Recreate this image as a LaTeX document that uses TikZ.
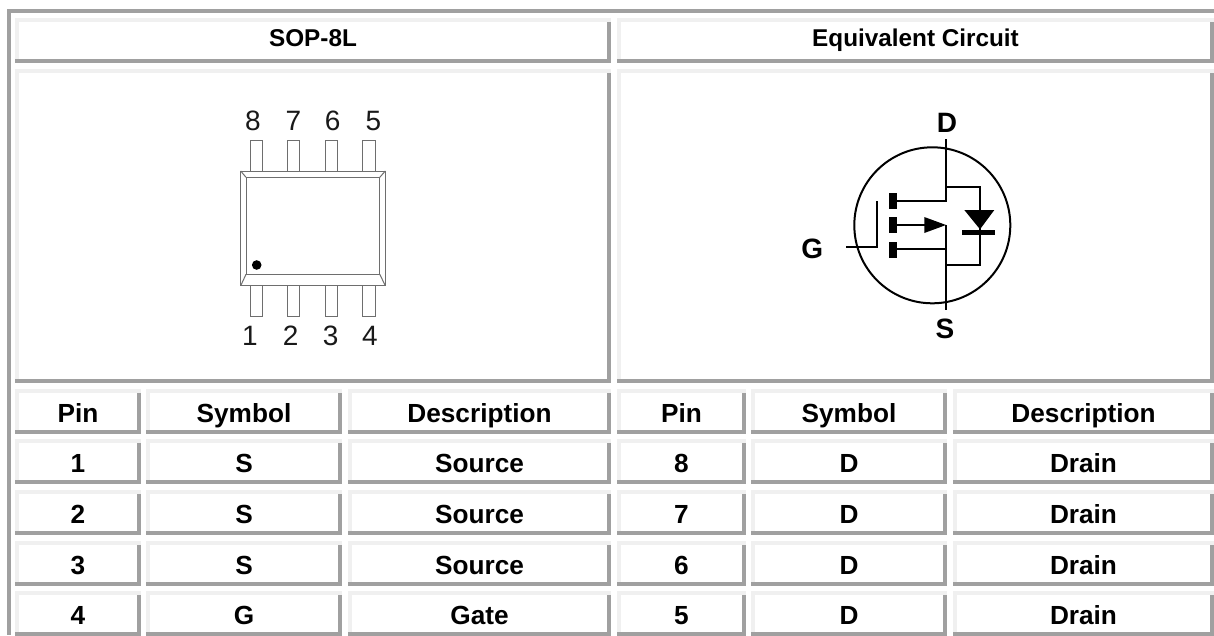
\documentclass[tikz,border=0pt]{standalone}
\usepackage{fontspec}
\setmainfont{Liberation Sans}
\definecolor{framedark}{HTML}{A0A0A0}
\definecolor{framelight}{HTML}{F0F0F0}
\definecolor{pkgline}{HTML}{6E6E6E}
\tikzset{
  celltext/.style={anchor=base,inner sep=0pt,font=\fontsize{#1}{#1}\selectfont\bfseries,text=black},
  pinnum/.style={anchor=center,inner sep=0pt,font=\fontsize{28}{28}\selectfont,text=black!90},
  pkg/.style={draw=pkgline,line width=1pt,line join=miter},
  fetthick/.style={draw=black,line width=2.3pt,line cap=butt},
  fetthin/.style={draw=black,line width=1.7pt},
  fetlabel/.style={anchor=center,inner sep=0pt,font=\fontsize{28}{28}\selectfont\bfseries,text=black}
}
% #1 name, #2 x0, #3 y0, #4 x1, #5 y1, #6 size, #7 baseline y, #8 text
\newcommand{\tabcell}[8]{%
  \fill[framelight] (#2,#3) rectangle (#4,#3+4);
  \fill[framelight] (#2,#3) rectangle (#2+4,#5-4);
  \fill[framedark] (#2,#5-4) rectangle (#4,#5);
  \fill[framedark] (#4-4,#3+4) rectangle (#4,#5);
  \node[celltext=#6] (#1) at ({(#2+#4)/2},#7) {#8};
}
\newcommand{\tabrow}[7]{%
  \tabcell{p#1}{15}{#2}{141}{#3}{26.2}{#4}{#5}
  \tabcell{s#1}{146}{#2}{342}{#3}{26.2}{#4}{#6}
  \tabcell{d#1}{348}{#2}{611}{#3}{26.2}{#4}{#7}
}
\newcommand{\tabrowR}[7]{%
  \tabcell{q#1}{617}{#2}{746}{#3}{26.2}{#4}{#5}
  \tabcell{t#1}{751}{#2}{947}{#3}{26.2}{#4}{#6}
  \tabcell{e#1}{953}{#2}{1214}{#3}{26.2}{#4}{#7}
}
\newcommand{\pkgpin}[3]{\draw[pkg] (#1,#2) rectangle (#1+12.4,#3);}
\begin{document}
\begin{tikzpicture}[x=1pt,y=-1pt]
\useasboundingbox (0,0) rectangle (1214,635);
\fill[white] (0,0) rectangle (1214,635);
\fill[framedark] (7,9) rectangle (1214,13);
\fill[framedark] (7,9) rectangle (11,635);
% header and drawing cells
\tabcell{h1}{15}{18}{611}{63}{24.3}{46.5}{SOP-8L}
\tabcell{h2}{617}{18}{1214}{63}{24.3}{46.5}{Equivalent Circuit}
\tabcell{big1}{15}{69}{611}{383}{24}{226}{}
\tabcell{big2}{617}{69}{1214}{383}{24}{226}{}
% table
\tabrow{0}{389}{434}{422}{Pin}{Symbol}{Description}
\tabrowR{0}{389}{434}{422}{Pin}{Symbol}{Description}
\tabrow{1}{439}{484}{472}{1}{S}{Source}
\tabrowR{1}{439}{484}{472}{8}{D}{Drain}
\tabrow{2}{490}{535}{523}{2}{S}{Source}
\tabrowR{2}{490}{535}{523}{7}{D}{Drain}
\tabrow{3}{541}{586}{574}{3}{S}{Source}
\tabrowR{3}{541}{586}{574}{6}{D}{Drain}
\tabrow{4}{591}{636}{624}{4}{G}{Gate}
\tabrowR{4}{591}{636}{624}{5}{D}{Drain}
% package
\foreach \px in {250.3,287.4,325,362.7}{
  \pkgpin{\px}{140.7}{171}
  \pkgpin{\px}{285.7}{316.7}
}
\draw[pkg] (240.7,171) rectangle (385.3,285.7);
\draw[pkg] (246,177.3) rectangle (379.8,274.3);
\draw[pkg] (240.7,171) -- (246,177.3);
\draw[pkg] (385.3,171) -- (379.8,177.3);
\draw[pkg] (240.7,285.7) -- (246,274.3);
\draw[pkg] (385.3,285.7) -- (379.8,274.3);
\fill[black] (256.7,265) circle[radius=4.8pt];
\node[pinnum] (n8) at (253,120.7) {8};
\node[pinnum] (n7) at (293.3,120.7) {7};
\node[pinnum] (n6) at (332.7,120.7) {6};
\node[pinnum] (n5) at (373.3,120.7) {5};
\node[pinnum] (n1) at (250,335.7) {1};
\node[pinnum] (n2) at (290.7,335.7) {2};
\node[pinnum] (n3) at (330.7,335.7) {3};
\node[pinnum] (n4) at (370,335.7) {4};
% MOSFET
\draw[black,line width=2pt] (932.3,225.3) circle[radius=78pt];
\draw[fetthick] (946,139.3) -- (946,201) -- (896.7,201);
\draw[fetthick] (896.7,225) -- (926,225);
\draw[fetthick] (896.7,249.3) -- (946,249.3);
\draw[fetthick] (946,225) -- (946,310);
\fill[black] (946,225) -- (924.3,217) -- (924.3,233) -- cycle;
\fill[black] (889,193.3) rectangle (896.7,209.3);
\fill[black] (889,217.3) rectangle (896.7,233.3);
\fill[black] (889,241.7) rectangle (896.7,257.7);
\draw[fetthin] (876.7,201) -- (876.7,246.7) -- (845.7,246.7);
\draw[fetthick] (946,187.3) -- (980,187.3) -- (980,265) -- (946,265);
\fill[black] (964.3,210) -- (994.3,210) -- (980,229.3) -- cycle;
\fill[black] (962.3,230.4) rectangle (995.3,235);
\node[fetlabel] (lD) at (947,123) {D};
\node[fetlabel] (lG) at (812.3,249.3) {G};
\node[fetlabel] (lS) at (945,329.3) {S};
\end{tikzpicture}
\end{document}
